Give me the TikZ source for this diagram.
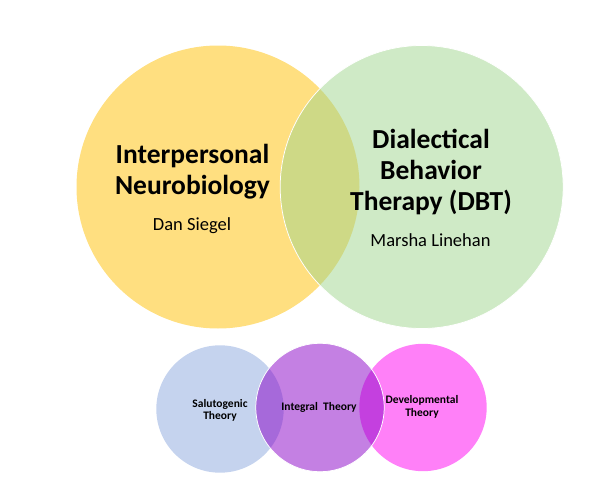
\documentclass[tikz,border=0pt]{standalone}
\usepackage{fontspec}
\setmainfont{Carlito}
\definecolor{ipnbyellow}{HTML}{FFDF80}
\definecolor{dbtgreen}{RGB}{159,213,141}
\definecolor{salublue}{HTML}{C5D3EE}
\definecolor{integpurple}{RGB}{137,1,199}
\definecolor{develpink}{RGB}{255,1,241}

\begin{document}
\begin{tikzpicture}[x = 1pt, y = -1pt,
    venn/.style = {draw = white, line width = .75pt},
    bigtitle/.style = {font = \bfseries\fontsize{27.5}{31}\selectfont, align = center, inner sep = 0pt},
    bigname/.style = {font = \fontsize{18.5}{22}\selectfont, inner sep = 0pt, anchor = base},
    smalltitle/.style = {font = \bfseries\fontsize{11.5}{12.5}\selectfont, align = center, inner sep = 0pt}]
  \useasboundingbox (0, 0) rectangle (606, 498);

  \fill [ipnbyellow] (218, 187) circle [radius = 141.5];
  \draw [venn, fill = dbtgreen, fill opacity = .5] (421.7, 187) circle [radius = 141.5];

  \fill [salublue] (220, 409) circle [radius = 63.7];
  \fill [develpink, fill opacity = .5] (423, 407.5) circle [radius = 63.7];
  \draw [venn, fill = integpurple, fill opacity = .5] (320, 407.5) circle [radius = 64.2];

  \node [bigtitle] (ipnb) at (192.5, 171.5) {Interpersonal\\Neurobiology};
  \node [bigname] (siegel) at (192, 230) {Dan Siegel};
  \node [bigtitle] (dbt) at (431, 172.3) {Dialectical\\Behavior\\Therapy (DBT)};
  \node [bigname] (linehan) at (430.5, 246) {Marsha Linehan};

  \node [smalltitle] (saluto) at (220, 410.4) {Salutogenic\\Theory};
  \node [smalltitle, anchor = base] (integ) at (319, 410) {Integral\ \ Theory};
  \node [smalltitle] (devel) at (422, 406.9) {Developmental\\Theory};
\end{tikzpicture}
\end{document}
